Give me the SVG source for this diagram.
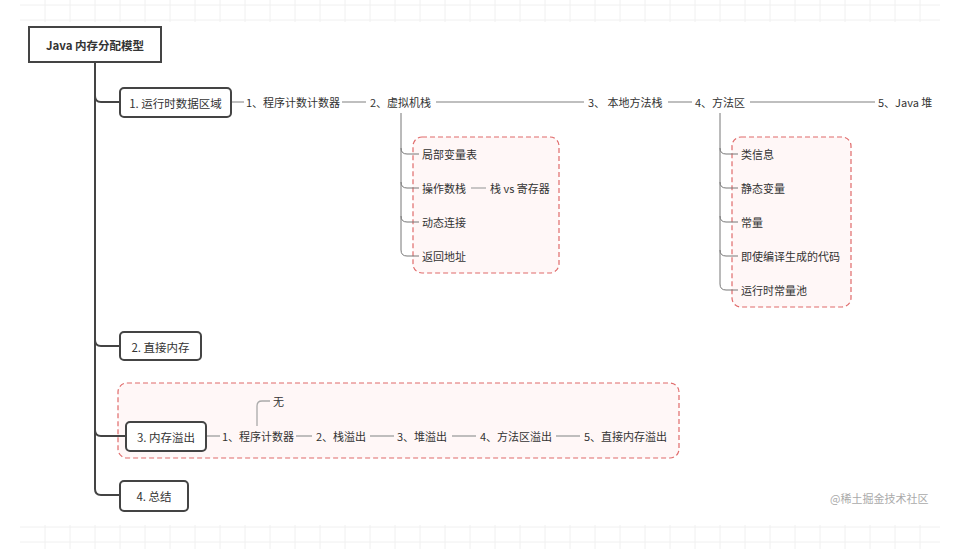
<svg xmlns="http://www.w3.org/2000/svg" width="955" height="549" viewBox="0 0 955 549">
<defs>
<style>
text{font-family:"Noto Sans CJK SC","Noto Sans",sans-serif;font-size:11px;fill:#333;dominant-baseline:central}
.box{fill:#fff;stroke:#444;stroke-width:2}
.bt{font-size:11.5px;text-anchor:middle}
.trunk{fill:none;stroke:#444;stroke-width:2}
.conn{fill:none;stroke:#aaa;stroke-width:1.3}
.sub{fill:none;stroke:#777;stroke-width:1}
.grp{fill:#fff7f7;stroke:#e06a6a;stroke-width:1.2;stroke-dasharray:5 3}
.grid{stroke:#f0f0f0;stroke-width:1}
</style>
</defs>
<rect width="955" height="549" fill="#fff"/>
<g id="grid">
<path class="grid" d="M20 5H940M20 20H940M20 527H940M20 542H940"/>
<path class="grid" d="M45 0V22M70 0V22M95 0V22M120 0V22M145 0V22M170 0V22M195 0V22M220 0V22M245 0V22M270 0V22M295 0V22M320 0V22M345 0V22M370 0V22M395 0V22M420 0V22M445 0V22M470 0V22M495 0V22M520 0V22M545 0V22M570 0V22M595 0V22M620 0V22M645 0V22M670 0V22M695 0V22M720 0V22M745 0V22M770 0V22M795 0V22M820 0V22M845 0V22M870 0V22M895 0V22M920 0V22"/>
<path class="grid" d="M45 525V549M70 525V549M95 525V549M120 525V549M145 525V549M170 525V549M195 525V549M220 525V549M245 525V549M270 525V549M295 525V549M320 525V549M345 525V549M370 525V549M395 525V549M420 525V549M445 525V549M470 525V549M495 525V549M520 525V549M545 525V549M570 525V549M595 525V549M620 525V549M645 525V549M670 525V549M695 525V549M720 525V549M745 525V549M770 525V549M795 525V549M820 525V549M845 525V549M870 525V549M895 525V549M920 525V549"/>
</g>
<g id="groups">
<rect class="grp" x="413" y="137" width="146" height="136" rx="9"/>
<rect class="grp" x="732" y="137" width="119" height="170" rx="9"/>
<rect class="grp" x="118" y="383" width="561" height="75" rx="9"/>
</g>
<g id="connectors">
<path class="trunk" d="M95 62V489Q95 495 101 495H120"/>
<path class="trunk" d="M95 96Q95 102 101 102H120"/>
<path class="trunk" d="M95 340Q95 346 101 346H120"/>
<path class="trunk" d="M95 430Q95 436 101 436H126"/>
<path class="conn" d="M231 102H244M342 102H366M436 102H584M668 102H692M750 102H875"/>
<path class="sub" d="M401 113V250Q401 256 407 256H419M401 148Q401 154 407 154H419M401 182Q401 188 407 188H419M401 216Q401 222 407 222H419"/>
<path class="conn" d="M471 188H486"/>
<path class="sub" d="M720 113V284Q720 290 726 290H738M720 148Q720 154 726 154H738M720 182Q720 188 726 188H738M720 216Q720 222 726 222H738M720 250Q720 256 726 256H738"/>
<path class="conn" d="M206 436H220M296 436H312M370 436H394M452 436H476M556 436H580"/>
<path class="conn" d="M257 426V406Q257 401 262 401H270"/>
</g>
<g id="root">
<rect class="box" x="29" y="27" width="132" height="35"/>
<text class="bt" x="95" y="45" style="font-weight:bold">Java 内存分配模型</text>
</g>
<g id="n1">
<rect class="box" x="120" y="88" width="111" height="29" rx="4"/>
<text class="bt" x="175.5" y="102.5">1. 运行时数据区域</text>
</g>
<g id="n1-1"><text x="246" y="102">1、程序计数计数器</text></g>
<g id="n1-2"><text x="370" y="102">2、虚拟机栈</text></g>
<g id="n1-3"><text x="588" y="102">3、 本地方法栈</text></g>
<g id="n1-4"><text x="695" y="102">4、方法区</text></g>
<g id="n1-5"><text x="878" y="102">5、Java 堆</text></g>
<g id="n1-2-1"><text x="422" y="154">局部变量表</text></g>
<g id="n1-2-2"><text x="422" y="188">操作数栈</text></g>
<g id="n1-2-2-1"><text x="490" y="188">栈 vs 寄存器</text></g>
<g id="n1-2-3"><text x="422" y="222">动态连接</text></g>
<g id="n1-2-4"><text x="422" y="256">返回地址</text></g>
<g id="n1-4-1"><text x="741" y="154">类信息</text></g>
<g id="n1-4-2"><text x="741" y="188">静态变量</text></g>
<g id="n1-4-3"><text x="741" y="222">常量</text></g>
<g id="n1-4-4"><text x="741" y="256">即使编译生成的代码</text></g>
<g id="n1-4-5"><text x="741" y="290">运行时常量池</text></g>
<g id="n2">
<rect class="box" x="120" y="332" width="81" height="28" rx="4"/>
<text class="bt" x="160.5" y="346.5">2. 直接内存</text>
</g>
<g id="n3">
<rect class="box" x="126" y="422" width="80" height="29" rx="4"/>
<text class="bt" x="166" y="436.5">3. 内存溢出</text>
</g>
<g id="n3-1"><text x="222" y="436">1、程序计数器</text></g>
<g id="n3-1-1"><text x="273" y="401">无</text></g>
<g id="n3-2"><text x="316" y="436">2、栈溢出</text></g>
<g id="n3-3"><text x="397" y="436">3、堆溢出</text></g>
<g id="n3-4"><text x="480" y="436">4、方法区溢出</text></g>
<g id="n3-5"><text x="584" y="436">5、直接内存溢出</text></g>
<g id="n4">
<rect class="box" x="120" y="481" width="68" height="30" rx="4"/>
<text class="bt" x="154" y="496">4. 总结</text>
</g>
<text x="830" y="498" style="fill:#aaa;font-size:11px">@稀土掘金技术社区</text>
</svg>
